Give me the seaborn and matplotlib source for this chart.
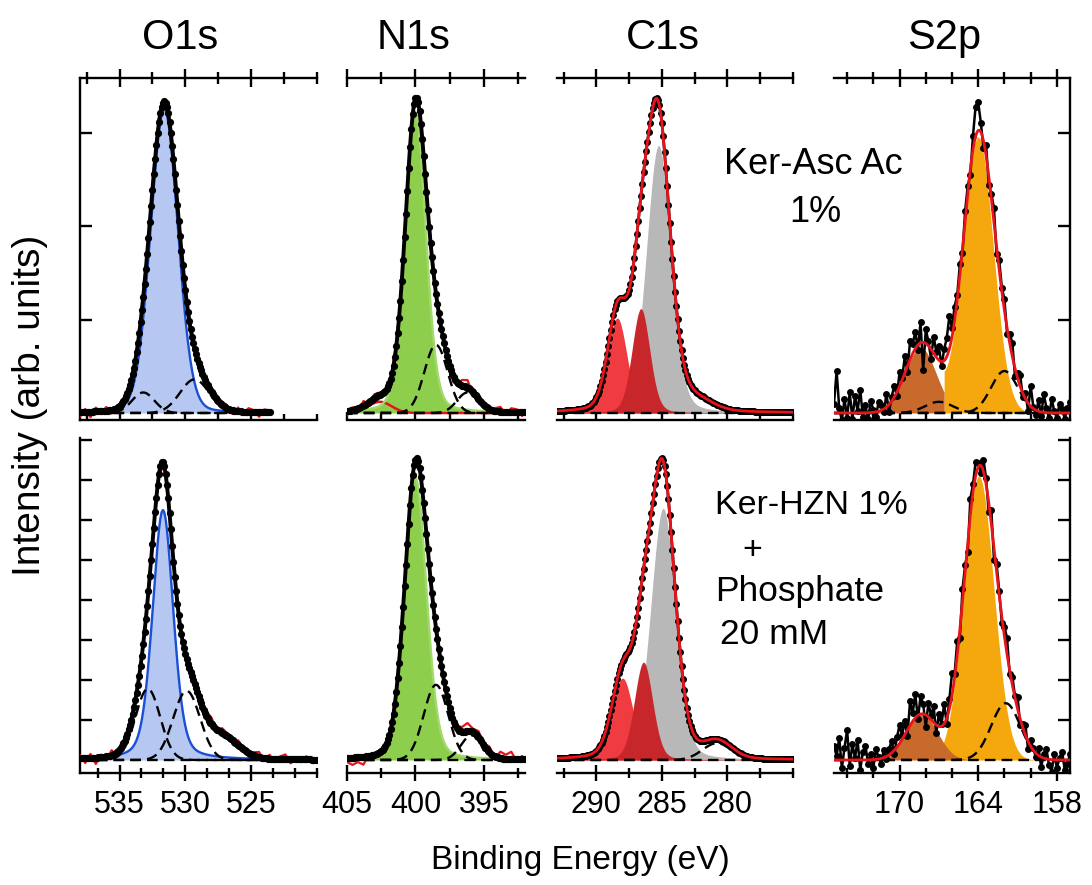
import numpy as np
import pandas as pd
import matplotlib
matplotlib.use("Agg")
import matplotlib.pyplot as plt
from matplotlib.ticker import MultipleLocator, FixedLocator
import seaborn as sns

sns.set_theme(style="white")
plt.rcParams["font.family"] = ["Liberation Sans", "DejaVu Sans"]
plt.rcParams.update({"axes.edgecolor": "black", "xtick.color": "black",
                     "ytick.color": "black", "text.color": "black"})

# ---------------------------------------------------------------- data
regions = ["O1s", "N1s", "C1s", "S2p"]
rows = ["top", "bottom"]
energy_range = {"O1s": (538.0, 520.0), "N1s": (405.0, 392.0),
                "C1s": (293.0, 275.0), "S2p": (175.0, 157.0)}
tick_values = {"O1s": [535, 530, 525], "N1s": [405, 400, 395],
               "C1s": [290, 285, 280], "S2p": [170, 164, 158]}
tick_labels = {"O1s": ["535", "530", "525"], "N1s": ["405", "400", "395"],
               "C1s": ["290", "285", "280"], "S2p": ["170", "164", "158"]}
# measured range where it differs from the axis range
measured_range = {("top", "O1s"): (538.0, 523.6)}

# fitted components: (centre eV, height, FWHM eV, Lorentzian fraction, species)
top_O1s = [(531.6, 3.26, 2.45, 0.10, "O main"), (533.2, 0.22, 2.0, 0.0, "minor"),
           (529.3, 0.36, 2.6, 0.0, "minor")]
top_N1s = [(402.6, 0.12, 2.0, 0.0, "N ox"), (400.0, 3.22, 1.8, 0.2, "N main"),
           (398.5, 0.73, 2.0, 0.0, "minor"), (396.2, 0.22, 1.8, 0.0, "minor")]
top_C1s = [(288.4, 1.02, 1.75, 0.2, "C=O"), (286.6, 1.12, 1.6, 0.2, "C-O"),
           (285.25, 2.87, 2.2, 0.2, "C-C"), (285.4, 0.26, 1.5, 0.0, "unassigned"),
           (287.5, 0.12, 1.5, 0.0, "unassigned"), (282.5, 0.12, 3.0, 0.0, "unassigned")]
top_S2p = [(168.4, 0.70, 2.8, 0.0, "S ox"), (164.0, 2.96, 2.7, 0.0, "S-S"),
           (167.0, 0.12, 2.5, 0.0, "minor"), (162.0, 0.45, 2.4, 0.0, "minor")]
bot_O1s = [(531.7, 6.25, 1.85, 0.3, "O main"), (532.85, 1.78, 2.2, 0.0, "minor"),
           (529.9, 1.73, 2.4, 0.0, "minor"), (527.3, 0.55, 3.0, 0.0, "unassigned")]
bot_N1s = [(400.0, 7.05, 1.9, 0.2, "N main"), (398.5, 1.88, 2.1, 0.0, "minor"),
           (395.9, 0.62, 1.8, 0.0, "minor")]
bot_C1s = [(288.0, 2.05, 1.9, 0.2, "C=O"), (286.4, 2.45, 1.65, 0.2, "C-O"),
           (284.9, 6.3, 2.25, 0.2, "C-C"), (285.0, 0.85, 1.5, 0.0, "unassigned"),
           (280.8, 0.42, 2.6, 0.0, "minor")]
bot_S2p = [(168.3, 1.15, 2.8, 0.0, "S ox"), (163.95, 7.1, 2.7, 0.0, "S-S"),
           (161.9, 1.42, 2.6, 0.0, "minor")]
components = {("top", "O1s"): top_O1s, ("top", "N1s"): top_N1s,
              ("top", "C1s"): top_C1s, ("top", "S2p"): top_S2p,
              ("bottom", "O1s"): bot_O1s, ("bottom", "N1s"): bot_N1s,
              ("bottom", "C1s"): bot_C1s, ("bottom", "S2p"): bot_S2p}

# raw-data deviations from the fit
# O1s / N1s raw spectra, 0.4 eV step from the high-BE end
raw_dev_top_O1s = [-0.05, 0.03, -0.06, 0.04, -0.02, 0.04, -0.04, 0.02, 0.02, -0.03, 0.03,
                   -0.02, 0.03, -0.02, 0.04, 0.05, 0.02, -0.02, 0.03, 0.02, -0.03, 0.04,
                   0.03, -0.04, 0.05, 0.02, -0.04, 0.04, 0.03, -0.04, 0.04, -0.03, 0.04,
                   0.02, -0.05, 0.03, 0.02]
raw_dev_bot_O1s = [0.08, -0.12, 0.10, -0.16, 0.06, -0.10, 0.12, -0.08, 0.04, -0.06, 0.08,
                   0.03, -0.05, 0.06, 0.08, -0.04, 0.06, -0.06, 0.04, 0.08, -0.04, 0.10,
                   0.14, -0.05, 0.12, 0.16, -0.04, 0.12, 0.07, -0.08, 0.12, 0.04, -0.10,
                   0.08, 0.13, -0.06, 0.10, -0.08, 0.07, 0.12, -0.10, 0.05, -0.07, 0.08,
                   -0.05, 0.04]
raw_dev_top_N1s = [-0.05, 0.03, -0.04, 0.05, -0.02, 0.04, 0.02, -0.03, 0.02, 0.03, -0.02,
                   0.03, 0.04, 0.02, -0.02, 0.03, 0.04, -0.03, 0.04, 0.02, -0.04, 0.06,
                   0.08, -0.03, 0.05, 0.02, -0.04, 0.03, 0.05, -0.02, 0.04, 0.03, -0.04]
raw_dev_bot_N1s = [-0.10, -0.18, -0.12, -0.20, 0.04, -0.08, 0.05, 0.03, -0.04, 0.06, 0.04,
                   -0.05, 0.05, 0.08, 0.03, -0.04, 0.06, 0.10, -0.05, 0.08, 0.04, 0.12,
                   0.20, 0.08, 0.16, 0.05, 0.15, -0.04, 0.16, 0.10, 0.18, -0.06, 0.08]
# S2p raw spectra, 0.2 eV step from 175 eV
raw_dev_top_S2p = [0.10, 0.45, 0.05, -0.08, 0.15, -0.05, 0.22, -0.06, 0.18, 0.02, 0.25,
                   -0.04, 0.08, -0.07, 0.12, 0.03, -0.05, 0.10, 0.06, -0.03, 0.14, -0.08,
                   0.05, 0.12, -0.04, 0.15, 0.02, 0.18, -0.06, 0.20, 0.10, 0.18, -0.05,
                   0.22, -0.30, 0.15, 0.05, -0.10, 0.18, 0.06, 0.15, -0.05, 0.12, 0.20,
                   0.35, 0.10, 0.15, 0.05, 0.12, -0.05, 0.10, 0.08, -0.06, 0.15, 0.32,
                   0.30, 0.10, -0.08, 0.12, -0.10, 0.05, 0.15, -0.08, 0.10, 0.04, 0.12,
                   -0.06, 0.10, 0.15, -0.08, 0.05, 0.12, -0.04, 0.06, -0.08, 0.22, 0.02,
                   -0.05, 0.12, -0.04, 0.20, 0.05, -0.06, 0.15, 0.02, -0.05, 0.10, 0.04,
                   -0.06, 0.05, 0.12]
raw_dev_bot_S2p = [0.35, 0.10, 0.55, -0.20, 0.30, 0.75, -0.15, 0.40, 0.05, 0.50, -0.25,
                   0.20, 0.35, -0.10, 0.15, -0.20, 0.25, 0.05, -0.15, 0.20, -0.05, 0.15,
                   0.30, -0.10, 0.25, 0.45, 0.10, 0.35, -0.15, 0.60, 0.20, 0.60, -0.10,
                   0.45, 0.25, -0.30, 0.35, 0.10, 0.40, -0.20, 0.30, 0.05, 0.50, -0.15,
                   0.25, 0.55, 0.10, 0.35, -0.20, 0.30, 0.15, -0.25, 0.40, 0.20, 0.35,
                   0.10, -0.20, 0.30, 0.15, -0.25, 0.35, -0.30, 0.20, 0.10, -0.15, 0.25,
                   0.40, -0.10, 0.20, 0.05, 0.30, -0.15, 0.10, 0.25, -0.20, 0.15, 0.05,
                   -0.10, 0.20, -0.25, 0.10, 0.25, -0.15, -0.30, 0.15, -0.20, 0.05, 0.20,
                   -0.25, -0.10, 0.15]
raw_dev = {("top", "O1s"): raw_dev_top_O1s, ("bottom", "O1s"): raw_dev_bot_O1s,
           ("top", "N1s"): raw_dev_top_N1s, ("bottom", "N1s"): raw_dev_bot_N1s,
           ("top", "S2p"): raw_dev_top_S2p, ("bottom", "S2p"): raw_dev_bot_S2p}
raw_step = {"O1s": 0.4, "N1s": 0.4, "S2p": 0.2}
smooth_step = 0.1

# ---------------------------------------------------------------- styles
FILL = {"O main": "#b6c7f1", "N main": "#8dcf4c", "C=O": "#f03c41",
        "C-O": "#c7272b", "C-C": "#b8b8b8", "S ox": "#c76a2c", "S-S": "#f5a80d"}
EDGE = {"O main": "#1a4fd6", "N main": "#a2d96c"}
FILL_Z = {"C-C": 1.0, "C=O": 1.1, "C-O": 1.2, "S-S": 1.0, "S ox": 1.1,
          "O main": 1.0, "N main": 1.0}
RED = "#e8141c"
DASH = (0, (4.5, 2.6))
S_CUT = {"top": 166.6, "bottom": None}

col_px = {"O1s": (80, 317), "N1s": (347, 525), "C1s": (557, 793), "S2p": (834, 1070)}
row_px = {"top": (78, 420), "bottom": (438, 773)}
ylims = {"top": (-0.075, 3.59), "bottom": (-0.325, 8.05)}
yticks = {"top": [1, 2, 3], "bottom": [1, 2, 3, 4, 5, 6, 7, 8]}
minor_step = {("top", "O1s"): 2.5, ("bottom", "O1s"): 5 / 3, "N1s": 2.5, "C1s": 2.5, "S2p": 2}

W, H = 1092, 885
fig = plt.figure(figsize=(W / 100, H / 100), dpi=100)


def pv(x, c, h, w, eta):
    t = (x - c) / w
    return h * ((1 - eta) * np.exp(-4 * np.log(2) * t ** 2) + eta / (1 + 4 * t ** 2))


def total(x, comps):
    return sum(pv(x, c, h, w, e) for c, h, w, e, _ in comps)


def line(ax, x, y, **kw):
    sns.lineplot(x=x, y=y, ax=ax, estimator=None, sort=False, legend=False, **kw)


for row in rows:
    for reg in regions:
        x0, x1 = col_px[reg]
        y0, y1 = row_px[row]
        ax = fig.add_axes([x0 / W, 1 - y1 / H, (x1 - x0) / W, (y1 - y0) / H])
        ax.set_facecolor("none")
        comps = components[(row, reg)]
        lo_hi = measured_range.get((row, reg), energy_range[reg])
        n = int(round((lo_hi[0] - lo_hi[1]) / smooth_step)) + 1
        xs = np.linspace(lo_hi[0], lo_hi[1], n)

        # filled components
        for c, h, w, e, sp in comps:
            if sp in FILL:
                yc = pv(xs, c, h, w, e)
                if reg == "S2p" and S_CUT[row] is not None:
                    cut = S_CUT[row]
                    if sp == "S-S":
                        yc = total(xs, [k for k in comps if k[4] in ("S-S", "S ox")])
                        mask = xs <= cut + 1e-9
                    else:
                        mask = xs >= cut - 1e-9
                    ax.fill_between(xs[mask], 0, yc[mask], color=FILL[sp], lw=0,
                                    zorder=FILL_Z[sp])
                else:
                    ax.fill_between(xs, 0, yc, color=FILL[sp], lw=0, zorder=FILL_Z[sp])
                if sp in EDGE:
                    line(ax, xs, yc, color=EDGE[sp], linewidth=1.7, zorder=2)
            elif sp == "N ox":
                line(ax, xs, pv(xs, c, h, w, e), color=RED, linewidth=1.8, zorder=2)
            elif sp == "minor":
                line(ax, xs, pv(xs, c, h, w, e), color="black", linewidth=1.7,
                     linestyle=DASH, zorder=2.5)
        # background (dashed baseline)
        line(ax, xs, np.zeros_like(xs), color="black", linewidth=1.7,
             linestyle=DASH, zorder=2.4)

        fit = total(xs, comps)
        if reg in ("O1s", "N1s"):
            dev = np.array(raw_dev[(row, reg)])
            xr = lo_hi[0] - raw_step[reg] * np.arange(len(dev))
            line(ax, xr, total(xr, comps) + dev, color=RED, linewidth=1.6, zorder=3)
            line(ax, xs, fit, color="black", linewidth=2.8, marker="o", markersize=5.2,
                 markeredgewidth=0, zorder=4)
        elif reg == "C1s":
            line(ax, xs, fit, color="black", linewidth=2.0, marker="o", markersize=5.0,
                 markeredgewidth=0, zorder=3)
            line(ax, xs, fit, color=RED, linewidth=2.0, zorder=4)
        else:
            dev = np.array(raw_dev[(row, reg)])
            xr = lo_hi[0] - raw_step[reg] * np.arange(len(dev))
            line(ax, xr, total(xr, comps) + dev, color="black", linewidth=1.8,
                 marker="o", markersize=5.0, markeredgewidth=0, zorder=3)
            line(ax, xs, fit, color=RED, linewidth=2.0, zorder=4)

        ax.set_xlim(*energy_range[reg])
        ax.set_ylim(*ylims[row])
        ax.set_xlabel("")
        ax.set_ylabel("")

        # spines
        for s in ax.spines.values():
            s.set_linewidth(1.7)
            s.set_color("black")
        ax.spines["left"].set_visible(reg == "O1s")
        ax.spines["right"].set_visible(reg == "S2p")
        ax.spines["top"].set_visible(False)

        mstep = minor_step.get((row, reg), minor_step.get(reg))
        ax.xaxis.set_major_locator(FixedLocator(tick_values[reg]))
        ax.xaxis.set_minor_locator(MultipleLocator(mstep))

        if row == "top":
            ax.tick_params(axis="x", which="both", direction="in", bottom=True,
                           top=False, labelbottom=False, width=1.7)
            ax.tick_params(axis="x", which="major", length=6)
            ax.tick_params(axis="x", which="minor", length=4)
            sec = ax.secondary_xaxis("top")
            sec.xaxis.set_major_locator(FixedLocator(tick_values[reg]))
            sec.xaxis.set_minor_locator(MultipleLocator(mstep))
            sec.spines["top"].set_linewidth(1.7)
            sec.tick_params(axis="x", which="both", direction="inout", labeltop=False,
                            width=1.7)
            sec.tick_params(axis="x", which="major", length=13)
            sec.tick_params(axis="x", which="minor", length=8)
        else:
            ax.set_xticks(tick_values[reg], labels=tick_labels[reg])
            ax.tick_params(axis="x", which="both", direction="inout", bottom=True,
                           top=False, labelsize=22, width=1.7, pad=6)
            ax.tick_params(axis="x", which="major", length=12)
            ax.tick_params(axis="x", which="minor", length=7)

        ax.yaxis.set_major_locator(FixedLocator(yticks[row]))
        ax.yaxis.set_minor_locator(FixedLocator([]))
        if reg == "O1s":
            ax.tick_params(axis="y", direction="in", left=True, right=False,
                           labelleft=False, length=8.5, width=1.7)
        elif reg == "S2p":
            ax.tick_params(axis="y", direction="in", left=False, right=True,
                           labelleft=False, labelright=False, length=8.5, width=1.7)
        else:
            ax.tick_params(axis="y", left=False, right=False, labelleft=False)
        ax.grid(False)

# ---------------------------------------------------------------- text
def ftext(px, py, s, **kw):
    fig.text(px / W, 1 - py / H, s, **kw)


title_x = {"O1s": 180, "N1s": 414, "C1s": 663, "S2p": 944}
for reg in regions:
    ftext(title_x[reg], 38, reg, ha="center", va="center", fontsize=30)

ftext(30, 405, "Intensity (arb. units)", rotation=90, ha="center", va="center",
      fontsize=28)
ftext(580, 860, "Binding Energy (eV)", ha="center", va="center", fontsize=24)

ftext(813, 165, "Ker-Asc Ac", ha="center", va="center", fontsize=26)
ftext(815, 212, "1%", ha="center", va="center", fontsize=26)
ftext(715, 505, "Ker-HZN 1%", ha="left", va="center", fontsize=24.5)
ftext(752, 550, "+", ha="center", va="center", fontsize=24.5)
ftext(715, 592, "Phosphate", ha="left", va="center", fontsize=25.5)
ftext(720, 635, "20 mM", ha="left", va="center", fontsize=25.5)

fig.savefig("out.png", dpi=100, facecolor="white")
